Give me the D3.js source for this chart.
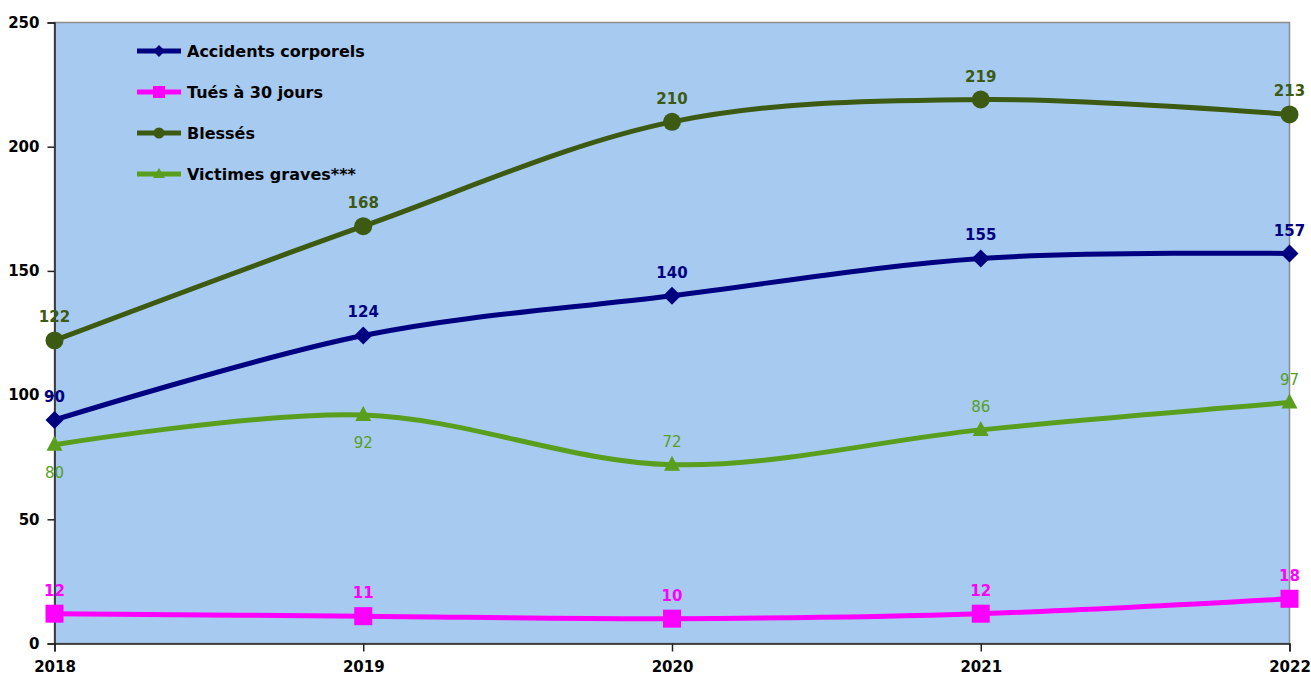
<!DOCTYPE html>
<html><head><meta charset="utf-8">
<script src="https://cdn.jsdelivr.net/npm/d3@7"></script>
<style>body{margin:0;background:#fff;} svg{display:block;}</style>
</head><body>
<svg id="c" width="1311" height="677"></svg>
<script>
const years = ["2018","2019","2020","2021","2022"];
const accidents = [90,124,140,155,157];
const tues = [12,11,10,12,18];
const blesses = [122,168,210,219,213];
const victimes = [80,92,72,86,97];
const yTicks = [0,50,100,150,200,250];
const seriesNames = ["Accidents corporels","Tués à 30 jours","Blessés","Victimes graves***"];

const series = [
  {name:seriesNames[0], values:accidents, color:"#000080", marker:"diamond", labelBold:true, labelPos:["above","above","above","above","above"]},
  {name:seriesNames[1], values:tues, color:"#ff00ff", marker:"square", labelBold:true, labelPos:["above","above","above","above","above"]},
  {name:seriesNames[2], values:blesses, color:"#3d5a12", marker:"circle", labelBold:true, labelPos:["above","above","above","above","above"]},
  {name:seriesNames[3], values:victimes, color:"#5a9e1e", marker:"triangle", labelBold:false, labelPos:["below","below","above","above","above"]}
];

const svg = d3.select("#c");
const L=54.5, R=1289.5, T=22.5, B=643.5;
const x = d3.scalePoint().domain(years).range([L,R]);
const y = d3.scaleLinear().domain([0,250]).range([B,T]);

svg.append("rect").attr("x",L).attr("y",T).attr("width",R-L).attr("height",B-T)
  .attr("fill","#a6caf0").attr("stroke","#8c8c8c").attr("stroke-width",1.5);

const font = "'Comic Sans MS','DejaVu Sans',sans-serif";

const yAxis = svg.append("g").attr("transform",`translate(${L},0)`)
  .call(d3.axisLeft(y).tickValues(yTicks).tickSize(7).tickPadding(8));
const xAxis = svg.append("g").attr("transform",`translate(0,${B})`)
  .call(d3.axisBottom(x).tickSize(8).tickPadding(10));
[yAxis,xAxis].forEach(g=>{
  g.select(".domain").attr("stroke","#222").attr("stroke-width",1.5);
  g.selectAll(".tick line").attr("stroke","#222").attr("stroke-width",1.5);
  g.selectAll("text").attr("fill","#000").attr("font-family",font).attr("font-weight","bold").attr("font-size","15px");
});

const line = d3.line().x((d,i)=>x(years[i])).y(d=>y(d)).curve(d3.curveCardinal.tension(0));

function marker(g, type, color, cx, cy){
  if(type==="circle") g.append("circle").attr("cx",cx).attr("cy",cy).attr("r",9).attr("fill",color);
  else if(type==="square") g.append("rect").attr("x",cx-9).attr("y",cy-9).attr("width",18).attr("height",18).attr("fill",color);
  else if(type==="diamond") g.append("path").attr("d",`M${cx},${cy-9}L${cx+9},${cy}L${cx},${cy+9}L${cx-9},${cy}Z`).attr("fill",color);
  else if(type==="triangle") g.append("path").attr("d",`M${cx},${cy-9}L${cx+8},${cy+6}L${cx-8},${cy+6}Z`).attr("fill",color);
}

series.forEach(s=>{
  const g = svg.append("g");
  g.append("path").attr("d",line(s.values)).attr("fill","none").attr("stroke",s.color).attr("stroke-width",5);
  s.values.forEach((v,i)=>{
    marker(g,s.marker,s.color,x(years[i]),y(v));
    const above = s.labelPos[i]==="above";
    g.append("text").attr("x",x(years[i])).attr("y",y(v)+(above?-18:33))
      .attr("text-anchor","middle").attr("fill",s.color)
      .attr("font-family","'DejaVu Sans',Verdana,sans-serif")
      .attr("font-weight",s.labelBold?"bold":"normal").attr("font-size","15px").text(v);
  });
});

const lg = svg.append("g");
series.forEach((s,i)=>{
  const ly = 51 + i*41;
  lg.append("line").attr("x1",137).attr("x2",181).attr("y1",ly).attr("y2",ly).attr("stroke",s.color).attr("stroke-width",5);
  const cx=159;
  if(s.marker==="circle") lg.append("circle").attr("cx",cx).attr("cy",ly).attr("r",5.5).attr("fill",s.color);
  else if(s.marker==="square") lg.append("rect").attr("x",cx-6).attr("y",ly-6).attr("width",12).attr("height",12).attr("fill",s.color);
  else if(s.marker==="diamond") lg.append("path").attr("d",`M${cx},${ly-6}L${cx+6},${ly}L${cx},${ly+6}L${cx-6},${ly}Z`).attr("fill",s.color);
  else lg.append("path").attr("d",`M${cx},${ly-6}L${cx+6},${ly+4}L${cx-6},${ly+4}Z`).attr("fill",s.color);
  lg.append("text").attr("x",187).attr("y",ly+6).attr("fill","#000")
    .attr("font-family",font).attr("font-weight","bold").attr("font-size","16px").text(s.name);
});
</script>
</body></html>
